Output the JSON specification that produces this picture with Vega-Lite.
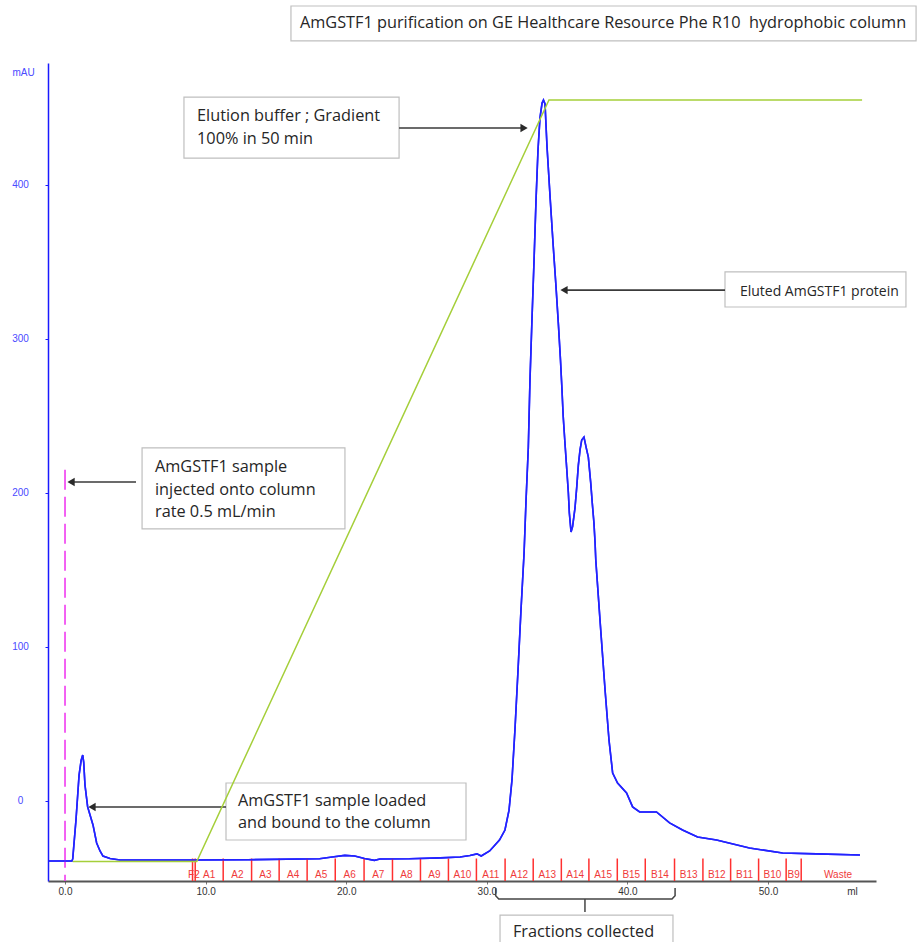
{
  "$schema": "https://vega.github.io/schema/vega-lite/v6.json",
  "width": 828,
  "height": 818,
  "autosize": {"type": "none"},
  "padding": {"left": 48, "top": 63, "right": 43, "bottom": 61},
  "background": "white",
  "config": {"view": {"stroke": null}, "axis": {"grid": false}},
  "datasets": {
    "uv": [
      {"ml": -1.16, "mAU": -39.0}, {"ml": 0.5, "mAU": -39.0}, {"ml": 0.55, "mAU": -37.5}, {"ml": 0.78, "mAU": -12.4},
      {"ml": 1.0, "mAU": 16.8}, {"ml": 1.15, "mAU": 26.5}, {"ml": 1.26, "mAU": 29.8}, {"ml": 1.33, "mAU": 25.0},
      {"ml": 1.42, "mAU": 10.3}, {"ml": 1.61, "mAU": -3.9}, {"ml": 1.78, "mAU": -9.2}, {"ml": 1.99, "mAU": -15.6},
      {"ml": 2.25, "mAU": -27.3}, {"ml": 2.49, "mAU": -32.5}, {"ml": 2.7, "mAU": -35.8}, {"ml": 3.2, "mAU": -37.4},
      {"ml": 3.91, "mAU": -38.4}, {"ml": 9.0, "mAU": -38.4}, {"ml": 13.0, "mAU": -38.2}, {"ml": 18.1, "mAU": -37.6},
      {"ml": 19.0, "mAU": -36.4}, {"ml": 19.9, "mAU": -35.4}, {"ml": 20.6, "mAU": -35.8}, {"ml": 21.3, "mAU": -37.4},
      {"ml": 22.0, "mAU": -38.6}, {"ml": 22.4, "mAU": -37.7}, {"ml": 24.5, "mAU": -37.6}, {"ml": 26.7, "mAU": -37.0},
      {"ml": 28.1, "mAU": -36.4}, {"ml": 28.8, "mAU": -35.4}, {"ml": 29.3, "mAU": -34.4}, {"ml": 29.6, "mAU": -35.8},
      {"ml": 30.2, "mAU": -32.5}, {"ml": 30.9, "mAU": -25.4}, {"ml": 31.29, "mAU": -18.9}, {"ml": 31.58, "mAU": -6.0},
      {"ml": 31.79, "mAU": 13.6}, {"ml": 32.0, "mAU": 46.0}, {"ml": 32.22, "mAU": 85.0}, {"ml": 32.43, "mAU": 123.9},
      {"ml": 32.65, "mAU": 160.9}, {"ml": 32.79, "mAU": 195.3}, {"ml": 32.95, "mAU": 229.1}, {"ml": 33.07, "mAU": 273.2},
      {"ml": 33.21, "mAU": 312.2}, {"ml": 33.36, "mAU": 351.1}, {"ml": 33.5, "mAU": 390.1}, {"ml": 33.64, "mAU": 422.5},
      {"ml": 33.78, "mAU": 443.3}, {"ml": 33.93, "mAU": 453.0}, {"ml": 34.03, "mAU": 455.0}, {"ml": 34.14, "mAU": 452.4},
      {"ml": 34.28, "mAU": 425.0}, {"ml": 34.5, "mAU": 392.0}, {"ml": 34.71, "mAU": 362.0}, {"ml": 34.92, "mAU": 334.0},
      {"ml": 35.1, "mAU": 308.0}, {"ml": 35.24, "mAU": 286.0}, {"ml": 35.34, "mAU": 268.0}, {"ml": 35.43, "mAU": 250.0},
      {"ml": 35.56, "mAU": 232.0}, {"ml": 35.68, "mAU": 216.1}, {"ml": 35.8, "mAU": 199.9}, {"ml": 35.87, "mAU": 186.9},
      {"ml": 35.99, "mAU": 174.6}, {"ml": 36.1, "mAU": 178.0}, {"ml": 36.27, "mAU": 190.0}, {"ml": 36.39, "mAU": 203.0}, {"ml": 36.51, "mAU": 218.0},
      {"ml": 36.63, "mAU": 227.8}, {"ml": 36.75, "mAU": 234.3}, {"ml": 36.91, "mAU": 236.2}, {"ml": 37.06, "mAU": 229.7},
      {"ml": 37.22, "mAU": 223.2}, {"ml": 37.39, "mAU": 206.4}, {"ml": 37.5, "mAU": 193.4}, {"ml": 37.62, "mAU": 180.4},
      {"ml": 37.7, "mAU": 167.4}, {"ml": 37.75, "mAU": 156.4}, {"ml": 38.05, "mAU": 117.4}, {"ml": 38.41, "mAU": 72.0},
      {"ml": 38.69, "mAU": 39.5}, {"ml": 38.95, "mAU": 18.1}, {"ml": 39.3, "mAU": 11.6}, {"ml": 39.94, "mAU": 5.1},
      {"ml": 40.37, "mAU": -3.9}, {"ml": 40.87, "mAU": -7.2}, {"ml": 42.07, "mAU": -7.2}, {"ml": 43.0, "mAU": -14.3},
      {"ml": 43.92, "mAU": -18.9}, {"ml": 44.99, "mAU": -23.4}, {"ml": 46.34, "mAU": -25.4}, {"ml": 48.68, "mAU": -30.6},
      {"ml": 51.03, "mAU": -33.8}, {"ml": 53.45, "mAU": -34.4}, {"ml": 56.54, "mAU": -35.1}
    ],
    "gradient": [
      {"ml": 0.55, "pctB": 0}, {"ml": 9.37, "pctB": 0}, {"ml": 34.42, "pctB": 100}, {"ml": 56.69, "pctB": 100}
    ],
    "fractions": [
      {"fraction": "F2", "start": 9.07, "end": 9.26}, {"fraction": "A1", "start": 9.26, "end": 11.25},
      {"fraction": "A2", "start": 11.25, "end": 13.27}, {"fraction": "A3", "start": 13.27, "end": 15.23},
      {"fraction": "A4", "start": 15.23, "end": 17.22}, {"fraction": "A5", "start": 17.22, "end": 19.22},
      {"fraction": "A6", "start": 19.22, "end": 21.27}, {"fraction": "A7", "start": 21.27, "end": 23.29},
      {"fraction": "A8", "start": 23.29, "end": 25.28}, {"fraction": "A9", "start": 25.28, "end": 27.27},
      {"fraction": "A10", "start": 27.27, "end": 29.26}, {"fraction": "A11", "start": 29.26, "end": 31.3},
      {"fraction": "A12", "start": 31.3, "end": 33.3}, {"fraction": "A13", "start": 33.3, "end": 35.3},
      {"fraction": "A14", "start": 35.3, "end": 37.26}, {"fraction": "A15", "start": 37.26, "end": 39.28},
      {"fraction": "B15", "start": 39.28, "end": 41.27}, {"fraction": "B14", "start": 41.27, "end": 43.35},
      {"fraction": "B13", "start": 43.35, "end": 45.37}, {"fraction": "B12", "start": 45.37, "end": 47.34},
      {"fraction": "B11", "start": 47.34, "end": 49.33}, {"fraction": "B10", "start": 49.33, "end": 51.29},
      {"fraction": "B9", "start": 51.29, "end": 52.36}, {"fraction": "Waste", "start": 52.36, "end": 57.6}
    ],
    "injection": [{"ml": 0, "top": 215, "bottom": -52}],
    "boxes": [
      {"box": "title", "x1": 16.07, "x2": 60.53, "y1": 516.0, "y2": 493.3},
      {"box": "elution", "x1": 8.46, "x2": 23.76, "y1": 456.9, "y2": 417.3},
      {"box": "eluted", "x1": 46.94, "x2": 59.81, "y1": 343.4, "y2": 320.6},
      {"box": "injected", "x1": 5.48, "x2": 19.91, "y1": 229.1, "y2": 176.6},
      {"box": "loaded", "x1": 11.45, "x2": 28.52, "y1": 11.6, "y2": -25.4},
      {"box": "fractions", "x1": 30.94, "x2": 43.24, "y1": -74.1, "y2": -100}
    ],
    "notes": [
      {"text": "AmGSTF1 purification on GE Healthcare Resource Phe R10 \u00a0hydrophobic column", "x": 16.71, "y": 501.7},
      {"text": "Elution buffer ; Gradient\n100% in 50 min", "x": 9.39, "y": 441.3},
      {"text": "AmGSTF1 sample\ninjected onto column\nrate 0.5 mL/min", "x": 6.4, "y": 213.5},
      {"text": "AmGSTF1 sample loaded\nand bound to the column", "x": 12.3, "y": -3.2},
      {"text": "Fractions collected", "x": 31.86, "y": -88.3}
    ],
    "notes_small": [
      {"text": "Eluted AmGSTF1 protein", "x": 48.0, "y": 327.5}
    ],
    "arrows": [
      {"tail": 23.76, "head": 32.65, "y": 436.8, "dir": "right"},
      {"tail": 46.94, "head": 35.49, "y": 331.6, "dir": "left"},
      {"tail": 5.05, "head": 0.43, "y": 207.0, "dir": "left"},
      {"tail": 11.45, "head": 1.92, "y": -3.96, "dir": "left"}
    ],
    "bracket": [
      {"part": "brace", "order": 1, "ml": 30.63, "mAU": -56.5},
      {"part": "brace", "order": 2, "ml": 30.63, "mAU": -61.5},
      {"part": "brace", "order": 3, "ml": 30.85, "mAU": -63.7},
      {"part": "brace", "order": 4, "ml": 43.17, "mAU": -63.7},
      {"part": "brace", "order": 5, "ml": 43.39, "mAU": -61.5},
      {"part": "brace", "order": 6, "ml": 43.39, "mAU": -56.5},
      {"part": "stem", "order": 1, "ml": 36.98, "mAU": -63.7},
      {"part": "stem", "order": 2, "ml": 36.98, "mAU": -72.2}
    ]
  },
  "layer": [
    {
      "layer": [
        {
          "data": {"name": "uv"},
          "mark": {"type": "line", "color": "#2323ff", "strokeWidth": 1.6},
          "encoding": {
            "x": {
              "field": "ml", "type": "quantitative",
              "scale": {"domain": [-1.21, 57.68], "nice": false, "zero": false},
              "axis": {
                "values": [0, 10, 20, 30, 40, 50], "format": ".1f",
                "domainColor": "#555555", "domainWidth": 2, "tickColor": "#777777", "tickSize": 3,
                "labelColor": "#333333", "labelFontSize": 10, "labelPadding": 2, "labelFont": "Liberation Sans", "labelFlush": false,
                "title": "ml", "titleX": 804, "titleY": 10, "titleAlign": "center", "titleBaseline": "middle",
                "titleFontSize": 10, "titleFontWeight": "normal", "titleColor": "#333333", "titleFont": "Liberation Sans"
              }
            },
            "y": {
              "field": "mAU", "type": "quantitative",
              "scale": {"domain": [-52, 479], "nice": false, "zero": false},
              "axis": {
                "values": [0, 100, 200, 300, 400], "format": "d",
                "domainColor": "#1a1aff", "domainWidth": 1.5, "tickColor": "#1a1aff", "tickSize": 3,
                "labelColor": "#4a4aff", "labelFontSize": 10, "labelAlign": "center", "labelPadding": 25, "labelFont": "Liberation Sans",
                "title": "mAU", "titleAngle": 0, "titleX": -25, "titleY": 9, "titleAlign": "center", "titleBaseline": "middle",
                "titleColor": "#4a4aff", "titleFontSize": 10, "titleFontWeight": "normal", "titleFont": "Liberation Sans"
              }
            }
          }
        },
        {
          "data": {"name": "boxes"},
          "mark": {"type": "rect", "fill": "white", "stroke": "#bfbfbf", "strokeWidth": 1.2},
          "encoding": {
            "x": {"field": "x1", "type": "quantitative"},
            "x2": {"field": "x2"},
            "y": {"field": "y1", "type": "quantitative"},
            "y2": {"field": "y2"}
          }
        },
        {
          "data": {"name": "fractions"},
          "mark": {"type": "rule", "color": "#ff3030", "strokeWidth": 1.5},
          "encoding": {
            "x": {"field": "start", "type": "quantitative"},
            "y": {"datum": -37.4, "type": "quantitative"},
            "y2": {"datum": -52}
          }
        },
        {
          "data": {"name": "fractions"},
          "transform": [{"calculate": "(datum.start + datum.end) / 2", "as": "mid"}],
          "mark": {"type": "text", "color": "#f03a3a", "font": "Liberation Sans", "fontSize": 10, "baseline": "middle", "align": "center"},
          "encoding": {
            "x": {"field": "mid", "type": "quantitative"},
            "y": {"datum": -48.1, "type": "quantitative"},
            "text": {"field": "fraction"}
          }
        },
        {
          "data": {"name": "injection"},
          "mark": {"type": "rule", "color": "#f03cf0", "strokeWidth": 1.6, "strokeDash": [20, 7]},
          "encoding": {
            "x": {"field": "ml", "type": "quantitative"},
            "y": {"field": "top", "type": "quantitative"},
            "y2": {"field": "bottom"}
          }
        },
        {
          "data": {"name": "uv"},
          "mark": {"type": "line", "color": "#2323ff", "strokeWidth": 1.6},
          "encoding": {
            "x": {"field": "ml", "type": "quantitative"},
            "y": {"field": "mAU", "type": "quantitative"}
          }
        },
        {
          "data": {"name": "notes"},
          "mark": {"type": "text", "align": "left", "baseline": "alphabetic", "font": "Open Sans", "fontSize": 16.3, "color": "#262626", "lineBreak": "\n", "lineHeight": 22.5},
          "encoding": {
            "x": {"field": "x", "type": "quantitative"},
            "y": {"field": "y", "type": "quantitative"},
            "text": {"field": "text"}
          }
        },
        {
          "data": {"name": "notes_small"},
          "mark": {"type": "text", "align": "left", "baseline": "alphabetic", "font": "Open Sans", "fontSize": 14, "color": "#262626"},
          "encoding": {
            "x": {"field": "x", "type": "quantitative"},
            "y": {"field": "y", "type": "quantitative"},
            "text": {"field": "text"}
          }
        },
        {
          "data": {"name": "arrows"},
          "mark": {"type": "rule", "color": "#3a3a3a", "strokeWidth": 1.7},
          "encoding": {
            "x": {"field": "tail", "type": "quantitative"},
            "x2": {"field": "head"},
            "y": {"field": "y", "type": "quantitative"}
          }
        },
        {
          "data": {"name": "arrows"},
          "mark": {"type": "point", "filled": true, "color": "#2a2a2a", "size": 70, "opacity": 1},
          "encoding": {
            "x": {"field": "head", "type": "quantitative"},
            "y": {"field": "y", "type": "quantitative"},
            "shape": {"field": "dir", "type": "nominal", "scale": {"domain": ["left", "right"], "range": ["triangle-left", "triangle-right"]}, "legend": null}
          }
        },
        {
          "data": {"name": "bracket"},
          "mark": {"type": "line", "color": "#444444", "strokeWidth": 1.5},
          "encoding": {
            "x": {"field": "ml", "type": "quantitative"},
            "y": {"field": "mAU", "type": "quantitative"},
            "detail": {"field": "part"},
            "order": {"field": "order"}
          }
        }
      ]
    },
    {
      "data": {"name": "gradient"},
      "mark": {"type": "line", "color": "#a5cf3a", "strokeWidth": 1.5},
      "encoding": {
        "x": {"field": "ml", "type": "quantitative"},
        "y": {"field": "pctB", "type": "quantitative", "scale": {"domain": [-2.56, 104.86], "nice": false, "zero": false}, "axis": null}
      }
    }
  ],
  "resolve": {"scale": {"y": "independent"}}
}
